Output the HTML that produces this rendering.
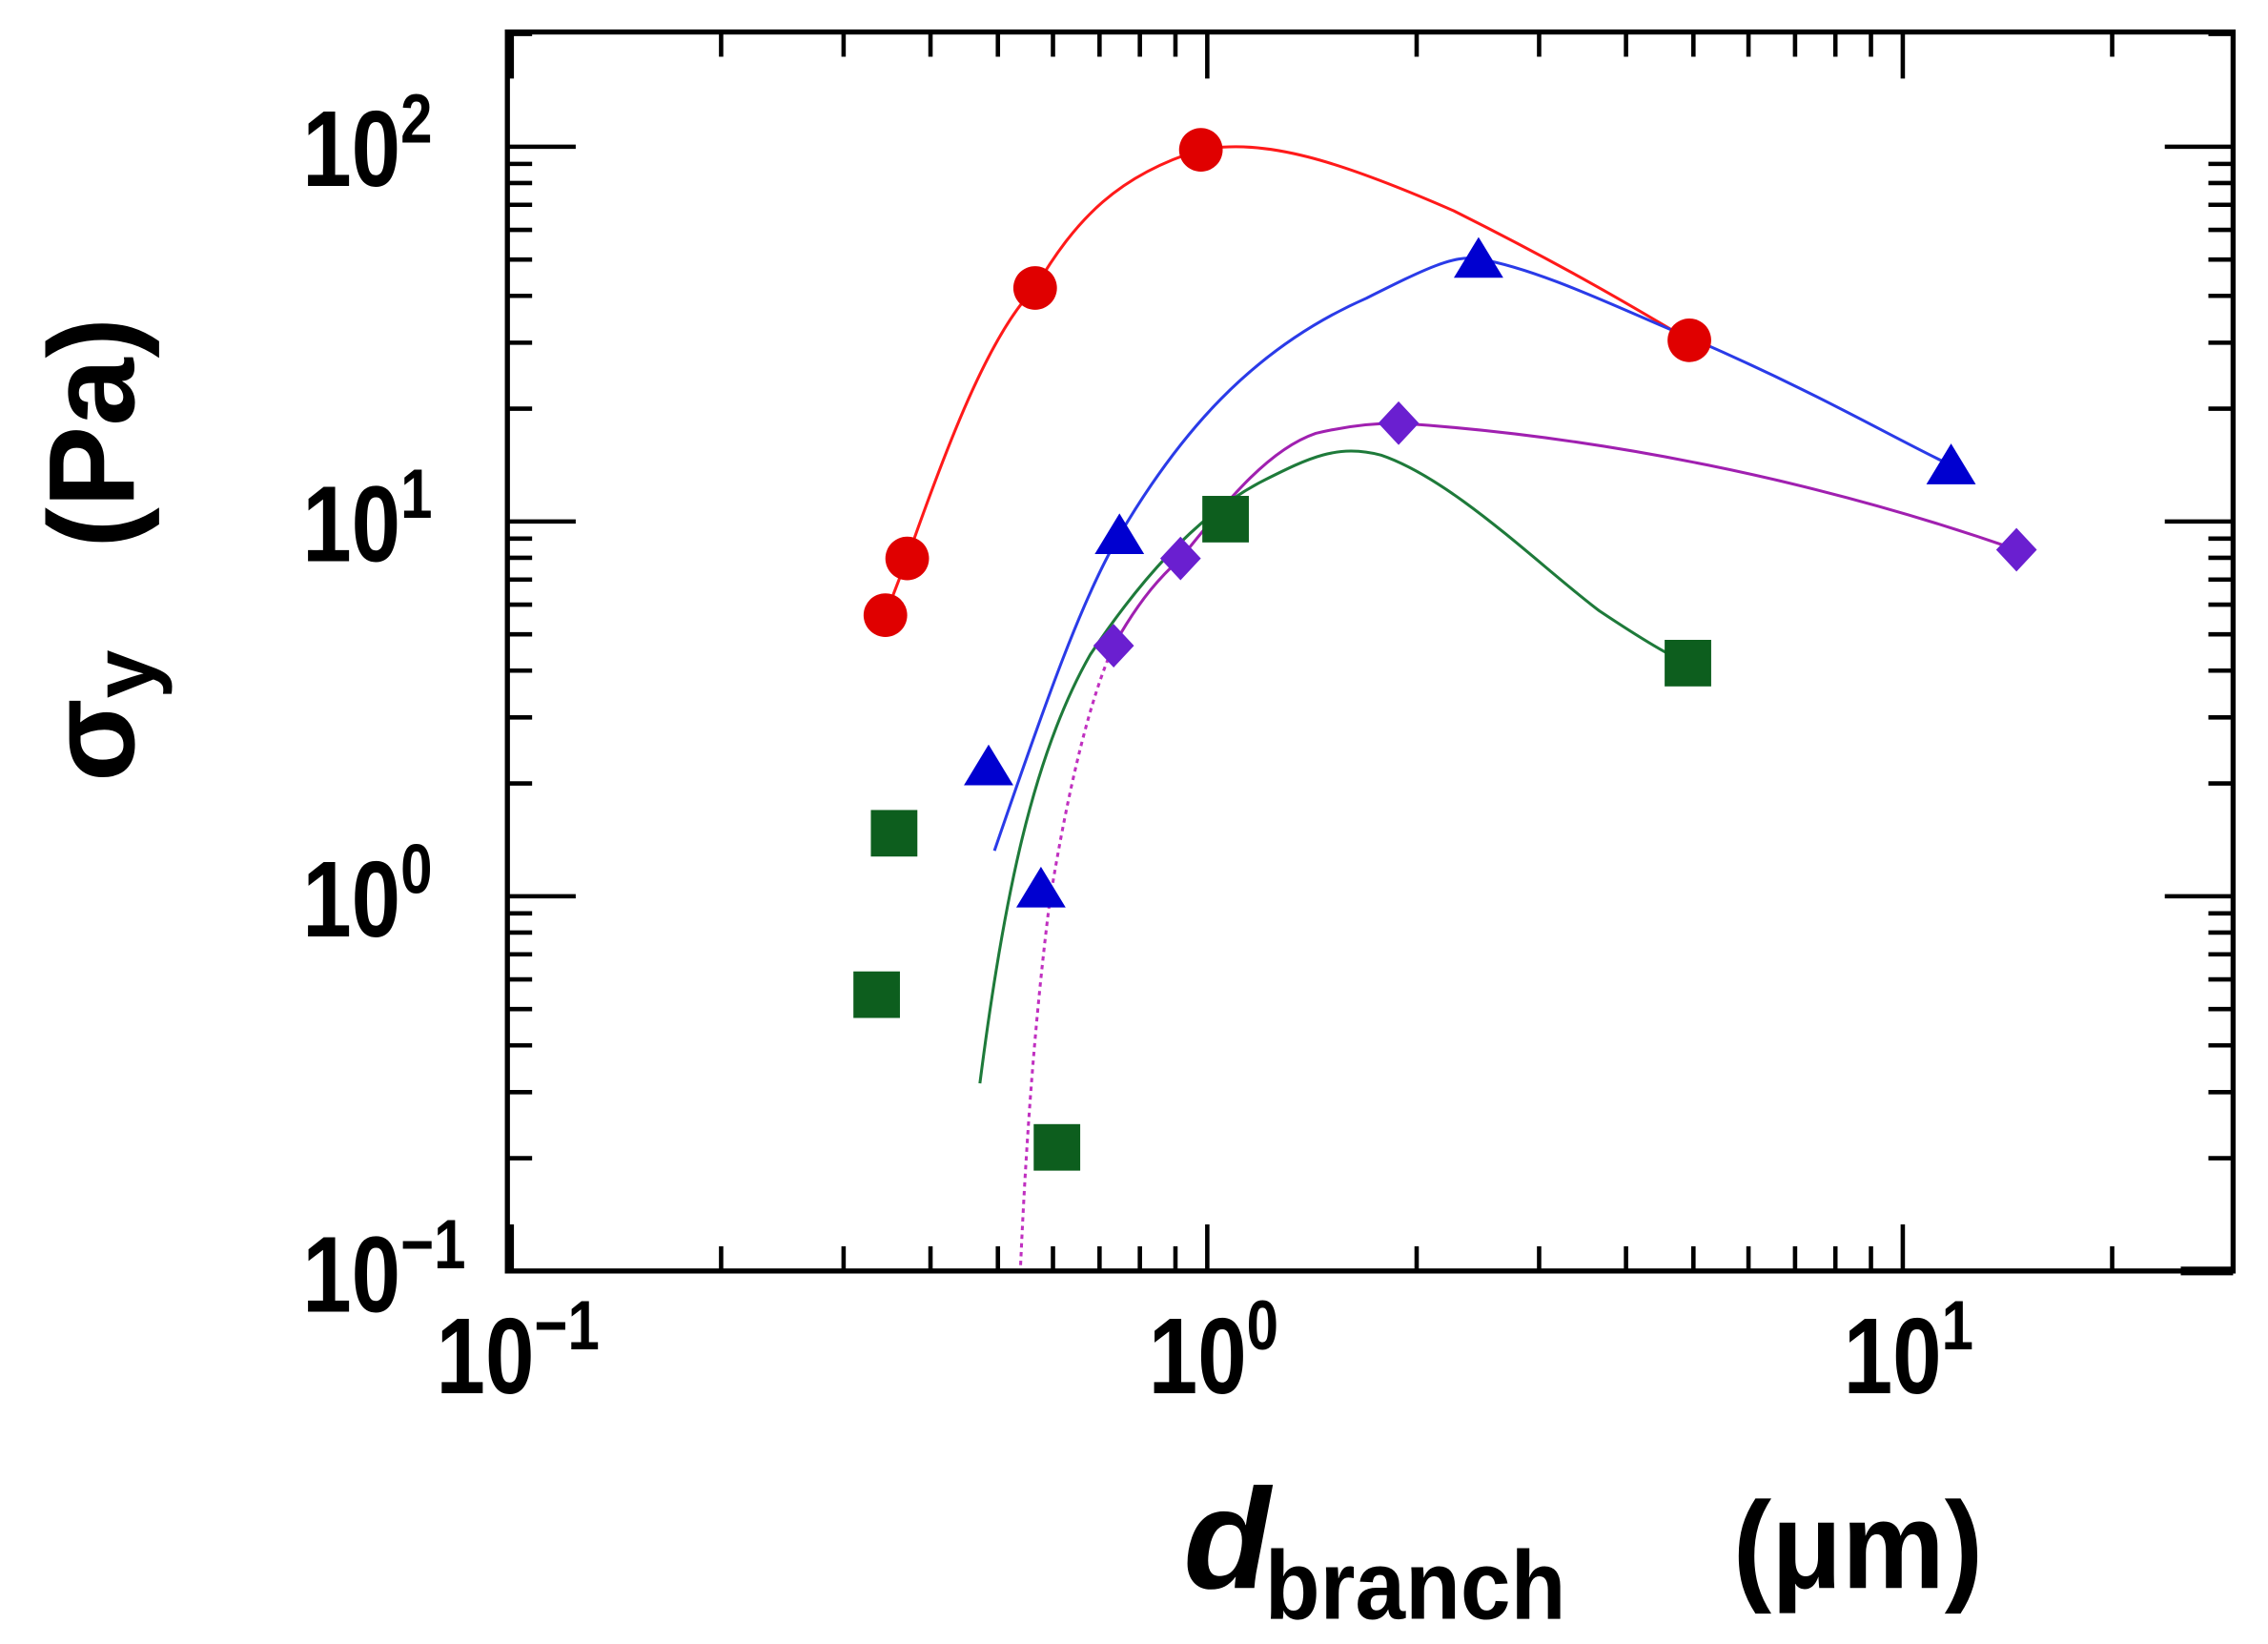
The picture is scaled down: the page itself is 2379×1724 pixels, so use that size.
<!DOCTYPE html>
<html><head><style>html,body{margin:0;padding:0;background:#fff}svg{display:block}</style></head>
<body>
<svg id="s" width="2379" height="1724" viewBox="0 0 1560 1130.5" preserveAspectRatio="none" xmlns="http://www.w3.org/2000/svg" font-family="Liberation Sans, Arial, sans-serif" font-weight="bold">
<rect x="0" y="0" width="1560" height="1130.5" fill="#fff"/>
<g id="ticks" stroke="#000" stroke-width="3" fill="none"></g>
<rect x="349" y="22" width="1187" height="852" fill="none" stroke="#000" stroke-width="3.5"/>
<line x1="1500" y1="874" x2="1536" y2="874" stroke="#000" stroke-width="6"/>
<!-- tick labels -->
<g font-size="74">
<text transform="translate(208,128) scale(0.82,1)">10<tspan font-size="48" dy="-30">2</tspan></text>
<text transform="translate(208,386) scale(0.82,1)">10<tspan font-size="48" dy="-30">1</tspan></text>
<text transform="translate(208,644) scale(0.82,1)">10<tspan font-size="48" dy="-30">0</tspan></text>
<text transform="translate(208,902) scale(0.82,1)">10<tspan font-size="48" dy="-30">−1</tspan></text>
<text transform="translate(300,958) scale(0.82,1)">10<tspan font-size="48" dy="-30">−1</tspan></text>
<text transform="translate(790,958) scale(0.82,1)">10<tspan font-size="48" dy="-30">0</tspan></text>
<text transform="translate(1268,958) scale(0.82,1)">10<tspan font-size="48" dy="-30">1</tspan></text>
</g>
<!-- y label -->
<text transform="translate(92,378) rotate(-90)" text-anchor="middle" font-size="84">σ<tspan font-size="60" dy="14">y</tspan><tspan dy="-14" xml:space="preserve">   (Pa)</tspan></text>
<!-- x label -->
<text x="814" y="1092" font-size="98" font-style="italic">d</text>
<text x="870" y="1113" font-size="67" textLength="207" lengthAdjust="spacingAndGlyphs">branch</text>
<text x="1192" y="1092" font-size="85" textLength="172" lengthAdjust="spacingAndGlyphs">(μm)</text>
<!-- curves -->
<g fill="none" stroke-width="2">
<path stroke="#ff1a1a" d="M609,423 L624,384 C650,310 680,230 712,198 C740,150 770,120 826,103 C870,95 920,110 1000,145 C1080,185 1130,215 1162,234"/>
<path stroke="#2a3be8" d="M684,585 C720,480 745,410 770,368 C810,300 860,240 940,205 C980,185 1000,175 1017,178 C1060,185 1120,215 1162,232 C1250,270 1300,300 1342,320"/>
<path stroke="#1e7a3a" d="M674,745 C690,620 710,520 750,450 C790,390 830,350 870,330 C900,315 920,305 950,313 C1000,330 1060,390 1100,420 C1130,440 1150,452 1161,456"/>
<path stroke="#a020b0" d="M766,444 C785,410 800,395 812,384 C840,350 870,310 905,298 C930,292 950,291 962,291 C1100,300 1250,330 1387,378"/>
<path stroke="#c030c0" stroke-dasharray="3,3" d="M702,870 C706,780 712,700 722,620 C735,540 750,480 766,444"/>
</g>
<!-- markers -->
<g fill="#e00000">
<circle cx="609" cy="423" r="15"/><circle cx="624" cy="384" r="15"/><circle cx="712" cy="198" r="15"/><circle cx="826" cy="103" r="15"/><circle cx="1162" cy="234" r="15"/>
</g>
<g fill="#0000d0" id="tri"></g>
<g fill="#0d5e1e">
<rect x="599" y="557" width="32" height="32"/><rect x="587" y="668" width="32" height="32"/><rect x="711" y="773" width="32" height="32"/><rect x="827" y="341" width="32" height="32"/><rect x="1145" y="440" width="32" height="32"/>
</g>
<g fill="#6a1fd0" id="dia"></g>
</svg>
<script>
const NS="http://www.w3.org/2000/svg";
const L=349,R=1536,T=22,B=874;
const X=v=>352+(Math.log10(v)+1)*478.4;
const Y=v=>874-(Math.log10(v)+1)*257.7;
const g=document.getElementById('ticks');
function ln(x1,y1,x2,y2){const e=document.createElementNS(NS,'line');e.setAttribute('x1',x1);e.setAttribute('y1',y1);e.setAttribute('x2',x2);e.setAttribute('y2',y2);g.appendChild(e);}
for(let d=-1;d<=1;d++){for(let m=1;m<=9;m++){const v=m*Math.pow(10,d);const x=X(v);if(x<L||x>R)continue;const len=m==1?32:17;ln(x,B,x,B-len);ln(x,T,x,T+len);}}
for(let d=-1;d<=2;d++){for(let m=1;m<=9;m++){const v=m*Math.pow(10,d);const y=Y(v);if(y<T||y>B+1)continue;const len=m==1?47:17;ln(L,y,L+len,y);ln(R,y,R-len,y);}}
const tri=document.getElementById('tri');
[[680,527],[716,611],[770,368],[1017,178],[1342,320]].forEach(([x,y])=>{const p=document.createElementNS(NS,'polygon');p.setAttribute('points',`${x},${y-15} ${x+17},${y+13} ${x-17},${y+13}`);tri.appendChild(p);});
const dia=document.getElementById('dia');
[[766,444],[812,384],[962,291],[1387,378]].forEach(([x,y])=>{const p=document.createElementNS(NS,'polygon');p.setAttribute('points',`${x},${y-15} ${x+14},${y} ${x},${y+15} ${x-14},${y}`);dia.appendChild(p);});
</script>
</body></html>
